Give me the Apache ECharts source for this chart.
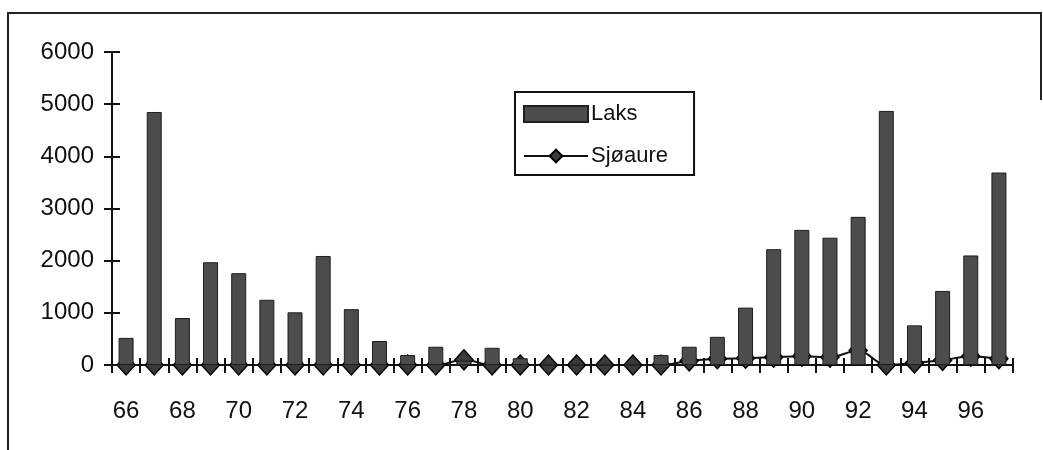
<!DOCTYPE html>
<html>
<head>
<meta charset="utf-8">
<script src="https://cdn.jsdelivr.net/npm/echarts@6/dist/echarts.min.js"></script>
<style>
  html, body { margin: 0; padding: 0; background: #fff; }
  #chart { width: 1043px; height: 450px; }
</style>
</head>
<body>
<div id="chart"></div>
<script>
// Catch per year (two-digit years 1966–1997)
const years = ['66','67','68','69','70','71','72','73','74','75','76','77','78','79','80','81',
               '82','83','84','85','86','87','88','89','90','91','92','93','94','95','96','97'];
const laks = [520, 4850, 900, 1970, 1760, 1250, 1010, 2090, 1070, 460, 190, 350, 80, 330, 130, 0,
              0, 0, 0, 190, 350, 540, 1100, 2220, 2590, 2440, 2840, 4870, 760, 1420, 2100, 3690];
const sjoaure = [0, 0, 0, 0, 0, 0, 0, 0, 0, 0, 0, 0, 100, 0, 0, 0,
                 0, 0, 0, 0, 80, 120, 130, 150, 170, 150, 280, 0, 40, 90, 170, 120];
const yTicks = { min: 0, max: 6000, interval: 1000 };

const font = '"Liberation Sans", Arial, Helvetica, sans-serif';
const ink = '#111';

// plot box
const W = 1043, H = 450;
const gridBox = { left: 112, right: 30, top: 52, bottom: 85 };
const plotW = W - gridBox.left - gridBox.right;
const plotH = H - gridBox.top - gridBox.bottom;

const chart = echarts.init(document.getElementById('chart'), null, { renderer: 'canvas' });

chart.setOption({
  animation: false,
  backgroundColor: '#fff',
  textStyle: { fontFamily: font, color: ink },
  grid: gridBox,
  legend: {
    orient: 'vertical',
    left: 515,
    top: 92,
    padding: [11, 26, 8, 8],
    itemGap: 20,
    itemWidth: 64,
    itemHeight: 16,
    backgroundColor: '#fff',
    borderColor: ink,
    borderWidth: 2,
    borderRadius: 0,
    textStyle: { fontFamily: font, fontSize: 22, color: ink, padding: [0, 0, 0, -2] },
    data: [{ name: 'Laks', icon: 'rect' }, { name: 'Sjøaure' }]
  },
  xAxis: [
    {
      type: 'category',
      data: years,
      boundaryGap: true,
      axisLine: { onZero: false, lineStyle: { color: ink, width: 2 } },
      axisTick: { show: true, interval: 0, length: 8, lineStyle: { color: ink, width: 2 } },
      axisLabel: { interval: 1, margin: 34, fontSize: 24, fontFamily: font, color: ink },
      splitLine: { show: false }
    },
    {
      // upper half of the crossing ticks, laid onto the bottom axis line
      type: 'category',
      data: years,
      position: 'top',
      offset: -plotH,
      boundaryGap: true,
      axisLine: { show: false, onZero: false },
      axisTick: { show: true, interval: 0, length: 7, lineStyle: { color: ink, width: 2 } },
      axisLabel: { show: false },
      splitLine: { show: false }
    }
  ],
  yAxis: [
    {
      type: 'value',
      min: yTicks.min,
      max: yTicks.max,
      interval: yTicks.interval,
      axisLine: { show: true, onZero: false, lineStyle: { color: ink, width: 2 } },
      axisTick: { show: true, length: 8, lineStyle: { color: ink, width: 2 } },
      axisLabel: { margin: 18, fontSize: 24, fontFamily: font, color: ink, formatter: v => String(v) },
      splitLine: { show: false }
    },
    {
      // right half of the crossing ticks, laid onto the left axis line
      type: 'value',
      position: 'right',
      offset: -plotW,
      min: yTicks.min,
      max: yTicks.max,
      interval: yTicks.interval,
      axisLine: { show: false, onZero: false },
      axisTick: { show: true, length: 8, lineStyle: { color: ink, width: 2 } },
      axisLabel: { show: false },
      splitLine: { show: false }
    }
  ],
  series: [
    {
      name: 'Sjøaure',
      type: 'line',
      data: sjoaure,
      smooth: 0.35,
      z: 2,
      symbol: 'diamond',
      symbolSize: [18, 20],
      showAllSymbol: true,
      lineStyle: { color: ink, width: 2 },
      itemStyle: { color: '#3a3a3a', borderColor: '#000', borderWidth: 1.5 }
    },
    {
      name: 'Laks',
      type: 'bar',
      xAxisIndex: 1,
      yAxisIndex: 1,
      data: laks,
      barWidth: 15,
      z: 3,
      itemStyle: { color: '#4c4c4c', borderColor: '#1e1e1e', borderWidth: 1 }
    }
  ],
  graphic: [
    {
      // outer frame
      type: 'polyline',
      shape: { points: [[8, 450], [8, 13], [1041, 13], [1041, 100]] },
      style: { stroke: '#222', lineWidth: 2, fill: null },
      silent: true
    }
  ]
});
</script>
</body>
</html>
